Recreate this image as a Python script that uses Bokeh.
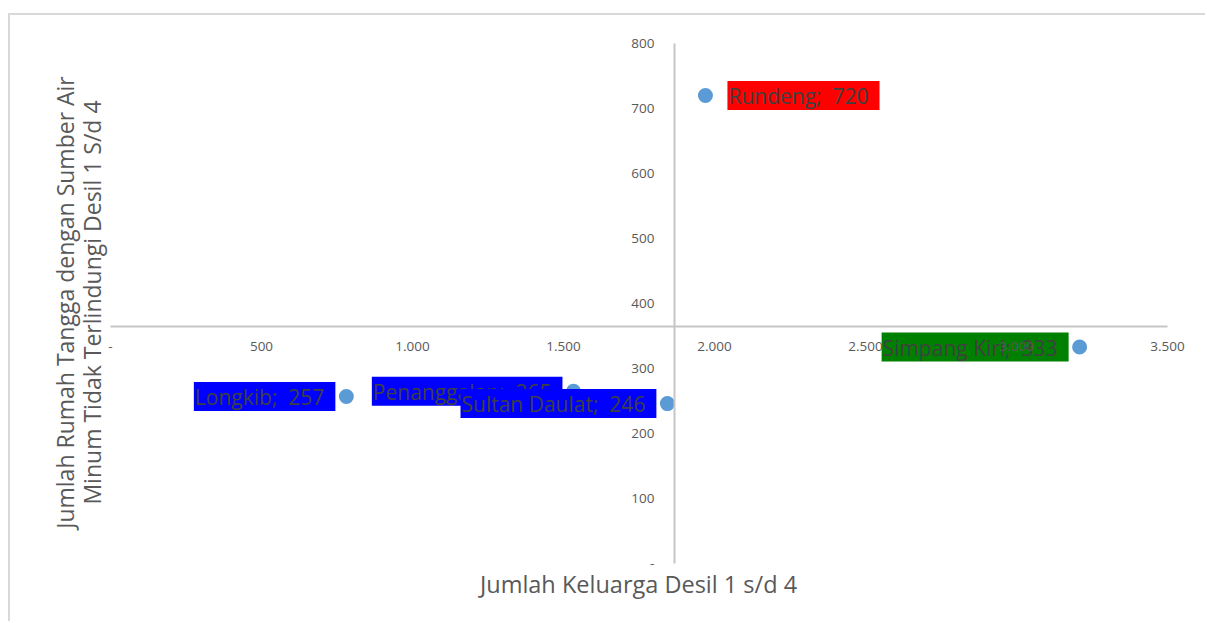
import numpy as np
from bokeh.plotting import figure
from bokeh.models import (ColumnDataSource, Range1d, FixedTicker,
                          CustomJSTickFormatter, Label, LinearAxis)
from bokeh.core.properties import value
from bokeh.embed import file_html
from bokeh.resources import INLINE

# ---- data ----
names = ["Rundeng", "Simpang Kiri", "Longkib", "Penanggalan", "Sultan Daulat"]
keluarga = [1970, 3209, 781, 1533, 1844]          # Jumlah Keluarga Desil 1 s/d 4
rumah_tangga = [720, 333, 257, 265, 246]          # Jumlah RT sumber air tidak terlindungi
label_colors = ["#ff0000", "#008000", "#0000ff", "#0000ff", "#0000ff"]
label_sides = ["right", "left", "left", "left", "left"]
x_ticks = [0, 500, 1000, 1500, 2000, 2500, 3000, 3500]
y_ticks = [0, 100, 200, 300, 400, 500, 600, 700, 800]
x_title = "Jumlah Keluarga Desil 1 s/d 4"
y_title = "Jumlah Rumah Tangga dengan Sumber Air\nMinum Tidak Terlindungi Desil 1 S/d 4"

labels = [f"{n}; \u00a0{v}" for n, v in zip(names, rumah_tangga)]
aligns = ["left" if s == "right" else "right" for s in label_sides]
xoffs = [22 if s == "right" else -11 for s in label_sides]

src = ColumnDataSource(dict(x=keluarga, y=rumah_tangga, label=labels,
                            bg=label_colors, align=aligns, xoff=xoffs))

x_cross = float(np.mean(keluarga))
y_cross = float(np.mean(rumah_tangga))

# ---- layout (page pixel geometry) ----
W, H = 1195, 606                 # canvas size
CANVAS_LEFT, CANVAS_TOP = 10, 15 # page position of canvas
X0_PX, PX_PER_X = 110, 151 / 500 # page x of value 0, px per unit
Y0_PX, PX_PER_Y = 563, 65 / 100  # page y of value 0, px per unit

def dx(px):
    return (px - X0_PX) / PX_PER_X

def dy(py):
    return (Y0_PX - py) / PX_PER_Y

x_start = dx(CANVAS_LEFT)
x_end = dx(CANVAS_LEFT + W)
y_end = dy(CANVAS_TOP)
y_start = dy(CANVAS_TOP + H)

p = figure(x_range=Range1d(x_start, x_end), y_range=Range1d(y_start, y_end),
           frame_width=W, frame_height=H, min_border=0,
           x_axis_location=None, y_axis_location=None,
           output_backend="svg", toolbar_location=None,
           background_fill_color="white", border_fill_color="white",
           styles={"margin-left": "8px", "margin-top": "13px",
                   "border-top": "2px solid #d9d9d9",
                   "border-left": "2px solid #d9d9d9"})
p.outline_line_color = None
p.xgrid.visible = False
p.ygrid.visible = False

fmt = CustomJSTickFormatter(code="""
if (tick == 0) { return "-"; }
return Math.round(tick).toString().replace(/\\B(?=(\\d{3})+(?!\\d))/g, ".");
""")

xa = LinearAxis(fixed_location=y_cross, ticker=FixedTicker(ticks=x_ticks),
                formatter=fmt, bounds=(x_ticks[0], x_ticks[-1]))
ya = LinearAxis(fixed_location=x_cross, ticker=FixedTicker(ticks=y_ticks),
                formatter=fmt, bounds=(y_ticks[0], y_ticks[-1]))
for ax, standoff in ((xa, 15), (ya, 20)):
    ax.axis_line_color = "#c6c6c6"
    ax.axis_line_width = 2
    ax.major_tick_line_color = None
    ax.minor_tick_line_color = None
    ax.major_tick_out = 0
    ax.major_tick_in = 0
    ax.major_label_standoff = standoff
    ax.major_label_text_font = "Open Sans"
    ax.major_label_text_font_size = "13.5px"
    ax.major_label_text_color = "#595959"
p.add_layout(xa, "below")
p.add_layout(ya, "left")

p.scatter(x="x", y="y", source=src, size=15, color="#5b9bd5", line_color=None)

p.text(x="x", y="y", text="label", source=src,
       text_align="align", x_offset="xoff", text_baseline="middle",
       text_font=value("Open Sans"), text_font_size=value("21px"),
       text_color="#404040", background_fill_color="bg",
       padding=dict(left=1, right=11, top=1, bottom=0))

p.add_layout(Label(x=dx(638), y=dy(583), text=x_title, text_align="center",
                   text_baseline="middle", text_font="Open Sans",
                   text_font_size="23.5px", text_color="#595959"))
p.add_layout(Label(x=dx(78), y=dy(302), text=y_title, angle=np.pi / 2,
                   text_align="center", text_baseline="middle",
                   text_font="Open Sans", text_font_size="23px",
                   text_color="#595959", text_line_height=0.85))

open("out.html", "w").write(file_html(p, INLINE))
